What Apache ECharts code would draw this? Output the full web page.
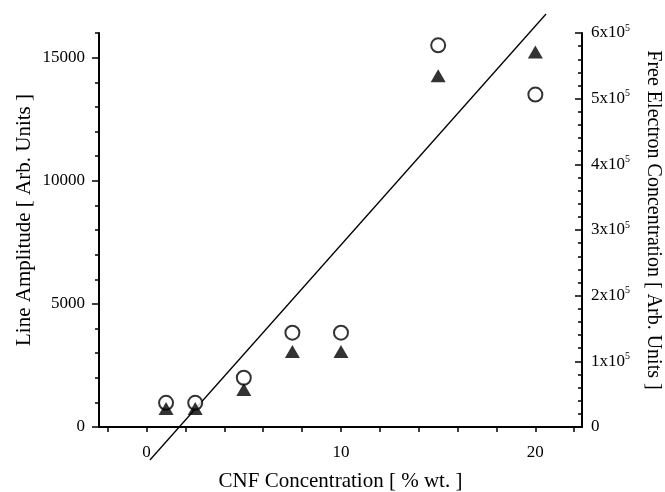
<!DOCTYPE html>
<html>
<head>
<meta charset="utf-8">
<script src="https://cdn.jsdelivr.net/npm/echarts@6/dist/echarts.min.js"></script>
<style>
  html, body { margin: 0; padding: 0; background: #fff; }
  #chart { width: 665px; height: 492px; }
</style>
</head>
<body>
<div id="chart"></div>
<script>
// data
const cnf = [1, 2.5, 5, 7.5, 10, 15, 20];
const lineAmplitude = [980, 980, 2000, 3830, 3830, 15500, 13500];     // circles, left axis
const freeElectron = [28000, 28000, 57000, 115000, 115000, 535000, 571000]; // triangles, right axis
const fitLine = [[0.17, -1340], [20.55, 16770]];
const xTicks = [-2, 0, 2, 4, 6, 8, 10, 12, 14, 16, 18, 20, 22];
const xLabels = [0, 10, 20];
const leftLabels = [0, 5000, 10000, 15000];

const font = 'Liberation Serif';
const chart = echarts.init(document.getElementById('chart'), null, { renderer: 'canvas' });

var axisLine = { show: true, onZero: false, lineStyle: { color: '#000', width: 2 } };
var plain = function (v) { return String(v); };

var option = {
  backgroundColor: '#fff',
  animation: false,
  grid: { left: 99, right: 83, top: 33, bottom: 65, containLabel: false, outerBoundsMode: 'none' },
  xAxis: {
    type: 'value',
    min: -2.45,
    max: 22.4,
    name: 'CNF Concentration [ % wt. ]',
    nameLocation: 'middle',
    nameGap: 44,
    nameTextStyle: { fontFamily: font, fontSize: 21, color: '#000' },
    axisLine: axisLine,
    axisTick: { show: true, customValues: xTicks, length: 5, lineStyle: { color: '#000', width: 1.5 } },
    axisLabel: { customValues: xLabels, margin: 17, fontFamily: font, fontSize: 17, color: '#000', formatter: plain },
    splitLine: { show: false }
  },
  yAxis: [
    {
      type: 'value',
      position: 'left',
      min: 0,
      max: 16000,
      name: 'Line Amplitude [ Arb. Units ]',
      nameLocation: 'middle',
      nameGap: 64,
      nameMoveOverlap: false,
      nameTextStyle: { fontFamily: font, fontSize: 21, color: '#000', padding: [0, 0, 0, 20] },
      axisLine: axisLine,
      axisTick: { show: true, customValues: leftLabels, length: 7, lineStyle: { color: '#000', width: 1.5 } },
      axisLabel: { customValues: leftLabels, margin: 14, fontFamily: font, fontSize: 17, color: '#000', formatter: plain },
      splitLine: { show: false }
    },
    {
      type: 'value',
      position: 'right',
      min: 0,
      max: 600000,
      interval: 100000,
      name: 'Free Electron Concentration [ Arb. Units ]',
      nameLocation: 'middle',
      nameRotate: -90,
      nameGap: 61,
      nameTextStyle: { fontFamily: font, fontSize: 20, color: '#000', padding: [0, 20, 0, 0] },
      axisLine: axisLine,
      axisTick: { show: true, inside: true, length: 7, lineStyle: { color: '#000', width: 1.5 } },
      minorTick: { show: true, splitNumber: 5, length: 4, lineStyle: { color: '#000', width: 1.5 } },
      axisLabel: {
        margin: 9,
        fontFamily: font,
        fontSize: 17,
        color: '#000',
        formatter: function (v) {
          if (v === 0) return '0';
          return '{b|' + (v / 100000) + 'x10}{s|5}';
        },
        rich: {
          b: { fontFamily: font, fontSize: 17, color: '#000' },
          s: { fontFamily: font, fontSize: 10, color: '#000', padding: [0, 0, 10, 0] }
        }
      },
      splitLine: { show: false }
    },
    {
      // minor ticks of the left axis
      type: 'value',
      position: 'left',
      min: 0,
      max: 16000,
      interval: 1000,
      axisLine: { show: false, onZero: false },
      axisTick: { show: true, length: 4, lineStyle: { color: '#000', width: 1.5 } },
      axisLabel: { show: false },
      splitLine: { show: false }
    }
  ],
  series: [
    {
      type: 'line',
      yAxisIndex: 0,
      data: fitLine,
      clip: false,
      symbol: 'none',
      lineStyle: { color: '#000', width: 1.3 },
      z: 1
    },
    {
      type: 'scatter',
      yAxisIndex: 0,
      data: cnf.map(function (x, i) { return [x, lineAmplitude[i]]; }),
      symbol: 'circle',
      symbolSize: 14,
      itemStyle: { color: '#fff', borderColor: '#000', borderWidth: 2 },
      z: 2
    },
    {
      type: 'scatter',
      yAxisIndex: 1,
      data: cnf.map(function (x, i) { return [x, freeElectron[i]]; }),
      symbol: 'triangle',
      symbolSize: [15, 13],
      itemStyle: { color: '#000' },
      z: 3
    }
  ]
};
chart.setOption(option);
</script>
</body>
</html>
